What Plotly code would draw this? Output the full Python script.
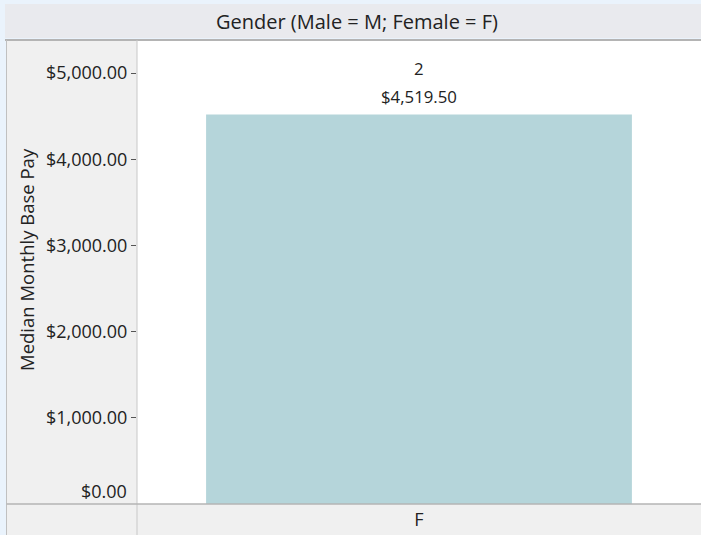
import plotly.graph_objects as go

# ---- data ----
categories = ["F"]
median_pay = [4519.50]
counts = [2]
y_ticks = [1000, 2000, 3000, 4000, 5000]

W, H = 701, 535
FONT = "Segoe UI, Open Sans, Noto Sans, sans-serif"

# pixel layout helpers (paper coords with zero margins)
def px(x):
    return x / W

def py(y):
    return (H - y) / H

plot_left, plot_top, plot_bottom = 137, 41, 504

fig = go.Figure()
fig.add_trace(go.Bar(
    x=categories,
    y=median_pay,
    marker=dict(color="#B5D5DA", line=dict(width=0)),
    hoverinfo="skip",
    width=0.755,
))

# labels above the bar (count, then value), anchored to the data point
label_annotations = []
for cat, val, n in zip(categories, median_pay, counts):
    label_annotations.append(dict(
        x=cat, y=val, xref="x", yref="y", text=f"${val:,.2f}",
        showarrow=False, xanchor="center", yanchor="middle", yshift=18,
        font=dict(size=16.8, color="#222222")))
    label_annotations.append(dict(
        x=cat, y=val, xref="x", yref="y", text=str(n),
        showarrow=False, xanchor="center", yanchor="middle", yshift=46,
        font=dict(size=16.8, color="#222222")))

fig.update_layout(
    width=W, height=H,
    margin=dict(l=0, r=0, t=0, b=0),
    paper_bgcolor="#EAF3FC",
    plot_bgcolor="#FFFFFF",
    showlegend=False,
    font=dict(family=FONT, color="#222222"),
    xaxis=dict(
        domain=[px(plot_left), 1],
        showgrid=False, zeroline=False, showline=False,
        ticks="", tickfont=dict(size=18, color="#222222"),
        ticklabelstandoff=3,
        range=[-0.5, 0.5],
        fixedrange=True,
    ),
    yaxis=dict(
        domain=[py(plot_bottom), py(plot_top)],
        range=[0, 5372],
        showgrid=False, zeroline=False, showline=False,
        tickvals=y_ticks,
        tickformat="$,.2f",
        ticks="outside", ticklen=5, tickcolor="#555555", tickwidth=1,
        tickfont=dict(size=18, color="#222222"),
        automargin=False,
        fixedrange=True,
    ),
    shapes=[
        # header band
        dict(type="rect", xref="paper", yref="paper", x0=px(5), x1=1, y0=py(38), y1=py(4),
             fillcolor="#E9EAEE", line=dict(width=0), layer="below"),
        # left panel
        dict(type="rect", xref="paper", yref="paper", x0=px(6.5), x1=px(plot_left), y0=0, y1=py(40),
             fillcolor="#F0F0F0", line=dict(width=0), layer="below"),
        # bottom band
        dict(type="rect", xref="paper", yref="paper", x0=px(plot_left), x1=1, y0=0, y1=py(plot_bottom),
             fillcolor="#F0F0F0", line=dict(width=0), layer="below"),
        # top border line
        dict(type="line", xref="paper", yref="paper", x0=px(5), x1=1, y0=py(40), y1=py(40),
             line=dict(color="#B4B4B4", width=2)),
        # left outer border
        dict(type="line", xref="paper", yref="paper", x0=px(6.5), x1=px(6.5), y0=0, y1=py(40),
             line=dict(color="#C0C0C0", width=1)),
        # left panel divider
        dict(type="line", xref="paper", yref="paper", x0=px(plot_left), x1=px(plot_left), y0=0, y1=py(40),
             line=dict(color="#C8C8C8", width=1)),
        # bottom band border
        dict(type="line", xref="paper", yref="paper", x0=px(6.5), x1=1, y0=py(plot_bottom), y1=py(plot_bottom),
             line=dict(color="#B4B4B4", width=1.5)),
    ],
    annotations=label_annotations + [
        dict(text="Gender (Male = M; Female = F)", xref="paper", yref="paper",
             x=px(357), y=py(21), showarrow=False, xanchor="center", yanchor="middle",
             font=dict(size=20, color="#222222")),
        dict(text="Median Monthly Base Pay", xref="paper", yref="paper",
             x=px(26), y=py(260), showarrow=False, xanchor="center", yanchor="middle",
             textangle=-90, font=dict(size=18.5, color="#222222")),
        dict(text="$0.00", xref="paper", yref="y", x=px(plot_left - 8), y=0,
             showarrow=False, xanchor="right", yanchor="bottom", yshift=-1,
             font=dict(size=18, color="#222222")),
    ],
)

fig.write_html(
    "out.html",
    config={"displayModeBar": False},
    post_script="document.body.style.margin='0';document.body.style.padding='0';document.body.style.overflow='hidden';",
)
